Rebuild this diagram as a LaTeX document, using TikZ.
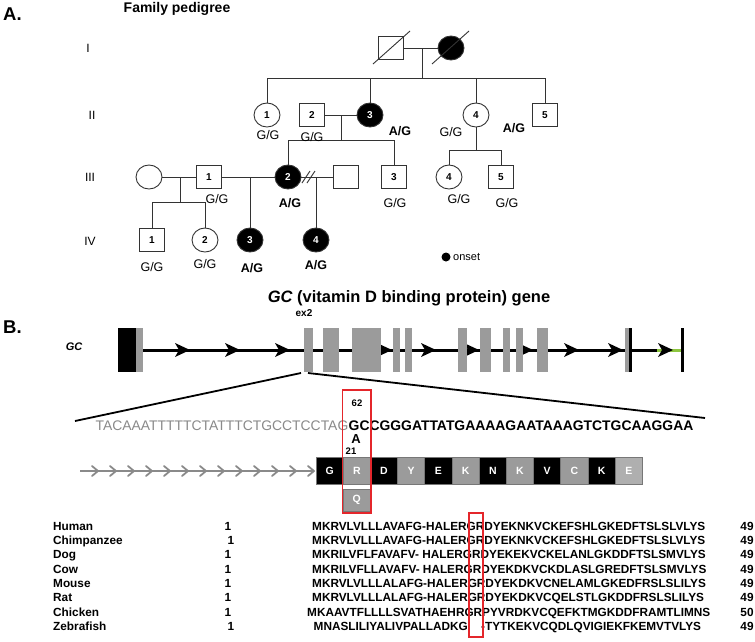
\documentclass[tikz,border=0pt]{standalone}
\usepackage{fontspec}
\setmainfont{Liberation Sans}
\usetikzlibrary{shapes.geometric}
\definecolor{exgray}{HTML}{9B9B9B}
\definecolor{seqgray}{HTML}{8A8A8A}
\definecolor{redb}{HTML}{E4262B}
\definecolor{lgreen}{HTML}{8DC63F}
\definecolor{rowedge}{HTML}{777777}
\newcommand\fs[1]{\fontsize{#1}{#1}\selectfont}
\begin{document}
\begin{tikzpicture}[x=1pt,y=-1pt,
 pl/.style={draw=black!80,line width=0.9pt},
 sqn/.style={draw=black!80,line width=0.9pt,rectangle,minimum width=25pt,minimum height=23pt,inner sep=0pt,font=\fs{10}\bfseries},
 cin/.style={draw=black!80,line width=0.9pt,ellipse,minimum width=26pt,minimum height=24pt,inner sep=0pt,font=\fs{10}\bfseries},
 fcin/.style={cin,fill=black,text=white},
 gg/.style={font=\fs{12.5}},
 ag/.style={font=\fs{12.5}\bfseries},
 genlab/.style={font=\fs{12}},
 exon/.style={fill=exgray,draw=none},
 aab/.style={rectangle,draw=rowedge,line width=0.8pt,minimum width=27.2pt,minimum height=27pt,inner sep=0pt,text=white,font=\fs{10.5}\bfseries},
 aln/.style={font=\fs{11.8}\bfseries,inner sep=0pt},
 redbox/.style={draw=redb,line width=1.8pt}
]
\useasboundingbox (0,0) rectangle (755,641);
\fill[white] (0,0) rectangle (755,641);

% ---------------- Part A ----------------
\node[font=\fs{18.5}\bfseries,anchor=west,inner sep=0pt] (labA) at (3,14) {A.};
\node[font=\fs{14}\bfseries,inner sep=0pt] (ttlA) at (177,9) {Family pedigree};

\node[genlab] (gI) at (88,48) {I};
\node[genlab] (gII) at (92,115) {II};
\node[genlab] (gIII) at (90,177) {III};
\node[genlab] (gIV) at (90,241) {IV};

% generation I
\node[sqn] (I1) at (391,48) {};
\node[fcin] (I2) at (451,48) {};
\draw[pl] (373,64) -- (410,31);
\draw[pl] (432,64) -- (469,31);

% generation II
\node[cin] (II1) at (267,115) {1};
\node[sqn] (II2) at (312,115) {2};
\node[fcin] (II3) at (370,115) {3};
\node[cin] (II4) at (476,115) {4};
\node[sqn] (II5) at (545,115) {5};

% generation III
\node[cin] (IIIs) at (149,177) {};
\node[sqn] (III1) at (209,177) {1};
\node[fcin] (III2) at (288,177) {2};
\node[sqn] (IIIs2) at (346,177) {};
\node[sqn] (III3) at (394,177) {3};
\node[cin] (III4) at (449,177) {4};
\node[sqn] (III5) at (501,177) {5};

% generation IV
\node[sqn] (IV1) at (152,240) {1};
\node[cin] (IV2) at (205,240) {2};
\node[fcin] (IV3) at (250,240) {3};
\node[fcin] (IV4) at (316,240) {4};

% connectors
\coordinate (m1) at (422,48);
\coordinate (s1) at (422,78);
\draw[pl] (I1.east) -- (I2.west);
\draw[pl] (m1) -- (s1);
\draw[pl] (II1.north) -- (II1.north |- s1) -- (II5.north |- s1) -- (II5.north);
\draw[pl] (II3.north |- s1) -- (II3.north);
\draw[pl] (II4.north |- s1) -- (II4.north);

\coordinate (m2) at (341,115);
\coordinate (s2) at (341,140);
\draw[pl] (II2.east) -- (II3.west);
\draw[pl] (m2) -- (s2);
\draw[pl] (III2.north) -- (III2.north |- s2) -- (III3.north |- s2) -- (III3.north);

\coordinate (s3) at (476,150);
\draw[pl] (II4.south) -- (s3);
\draw[pl] (III4.north) -- (III4.north |- s3) -- (III5.north |- s3) -- (III5.north);

\coordinate (m4) at (180,177);
\coordinate (s4) at (180,202);
\draw[pl] (IIIs.east) -- (III1.west);
\draw[pl] (m4) -- (s4);
\draw[pl] (IV1.north) -- (IV1.north |- s4) -- (IV2.north |- s4) -- (IV2.north);

\draw[pl] (III1.east) -- (III2.west);
\draw[pl] (IV3.north |- III1.east) -- (IV3.north);

\draw[pl] (III2.east) -- (IIIs2.west);
\draw[pl] (IV4.north |- III2.east) -- (IV4.north);
\draw[pl] (302,183) -- (310,171);
\draw[pl] (307,183) -- (315,171);

% genotypes
\node[gg] (g21) at (268,135) {G/G};
\node[gg] (g22) at (312,137) {G/G};
\node[ag] (g23) at (400,131) {A/G};
\node[gg] (g24) at (451,132) {G/G};
\node[ag] (g25) at (514,128) {A/G};
\node[gg] (g31) at (217,199) {G/G};
\node[ag] (g32) at (290,203) {A/G};
\node[gg] (g33) at (395,203) {G/G};
\node[gg] (g34) at (459,199) {G/G};
\node[gg] (g35) at (507,203) {G/G};
\node[gg] (g41) at (152,267) {G/G};
\node[gg] (g42) at (205,264) {G/G};
\node[ag] (g43) at (252,268) {A/G};
\node[ag] (g44) at (316,265) {A/G};

\fill (446,257) circle (4.5);
\node[font=\fs{11},anchor=west,inner sep=0pt] (onset) at (453,257) {onset};

% ---------------- Part B ----------------
\node[font=\fs{18.5}\bfseries,anchor=west,inner sep=0pt] (labB) at (3,327) {B.};
\node[font=\fs{16.5}\bfseries,inner sep=0pt] (ttlB) at (409,298) {\itshape GC\upshape{} (vitamin D binding protein) gene};
\node[font=\fs{10}\bfseries,inner sep=0pt] (ex2) at (304,313) {ex2};
\node[font=\fs{11}\bfseries\itshape,inner sep=0pt] (gcl) at (74,347) {GC};

% gene line
\draw[line width=3pt] (143,350) -- (683,350);
\draw[lgreen,line width=3pt] (657,350) -- (681,350);
\foreach \t in {190,240,290,392,436,479,533,579,623,673}{
  \fill (\t,350) -- ++(-15,-7) -- ++(4,7) -- ++(-4,7) -- cycle;
}
% first exon
\fill[black] (118,328) rectangle (136,372);
\fill[exgray] (136,328) rectangle (143,372);
% exons
\foreach \a/\b in {304/313,323/339,352/381,393/400,405/412,458/467,480/491,503/510,516/523,537/548}{
  \fill[exon] (\a,328) rectangle (\b,372);
}
% last exon bars
\fill[exgray] (625,328) rectangle (629,372);
\fill[black] (629,328) rectangle (632,372);
\fill[black] (681,328) rectangle (684,372);

% zoom lines
\coordinate (zl) at (301,373);
\coordinate (zr) at (308,373);
\draw[line width=1.8pt] (zl) -- (75,421);
\draw[line width=1.8pt] (zr) -- (705,418);

% sequence
\node[font=\fs{13.9},text=seqgray,anchor=base east,inner sep=0pt] (seq1) at (348.5,430) {TACAAATTTTTCTATTTCTGCCTCCTAG};
\node[font=\fs{13.9}\bfseries,anchor=base west,inner sep=0pt] (seq2) at (348.5,430) {GCCGGGATTATGAAAAGAATAAAGTCTGCAAGGAA};
\node[font=\fs{9.5}\bfseries,inner sep=0pt] (n62) at (357,403) {62};
\node[font=\fs{13}\bfseries,inner sep=0pt] (mutA) at (356,439) {A};
\node[font=\fs{9.5}\bfseries,inner sep=0pt] (n21) at (351,451) {21};

% gray arrows
\draw[seqgray,line width=2pt] (80,471) -- (314,471);
\foreach \t in {98,116,134,152,170,188,206,224,242,260,278,296,314}{
  \draw[seqgray,line width=1.8pt,line cap=round,line join=round] (\t-6,466) -- (\t,471) -- (\t-6,476);
}

% amino acid boxes
\foreach \i/\L/\c in {1/G/black,2/R/exgray,3/D/black,4/Y/exgray,5/E/black,6/K/exgray,7/N/black,8/K/exgray,9/V/black,10/C/exgray,11/K/black,12/E/exgray!80}{
  \node[aab,fill=\c] (aa\i) at ({316+27.2*(\i-0.5)},471) {\L};
}
\node[aab,fill=exgray,minimum height=22pt] (aaQ) at (aa2.center |- 0,500) {Q};
\draw[redb,line width=1.8pt] (342.5,390) rectangle (370.8,513);

% alignment
\foreach \n/\y in {Human/526,Chimpanzee/540.3,Dog/554.6,Cow/568.9,Mouse/583.2,Rat/597.5,Chicken/611.8,Zebrafish/626.1}{
  \node[aln,anchor=base west] (nm\n) at (53,\y+4.2) {\n};
}
\foreach \n/\x/\y in {1/228/526,2/231/540.3,3/228/554.6,4/228/568.9,5/228/583.2,6/228/597.5,7/228/611.8,8/231/626.1}{
  \node[aln,anchor=base] (one\n) at (\x,\y+4.2) {1};
}
\node[aln,anchor=base west] (sHu) at (312,530.2) {MKRVLVLLLAVAFG-HALERGRDYEKNKVCKEFSHLGKEDFTSLSLVLYS};
\node[aln,anchor=base west] (sCh) at (312,544.5) {MKRVLVLLLAVAFG-HALERGRDYEKNKVCKEFSHLGKEDFTSLSLVLYS};
\node[aln,anchor=base west] (sDo) at (312,558.8) {MKRILVFLFAVAFV- HALERGRDYEKEKVCKELANLGKDDFTSLSMVLYS};
\node[aln,anchor=base west] (sCo) at (312,573.1) {MKRILVFLLAVAFV- HALERGRDYEKDKVCKDLASLGREDFTSLSMVLYS};
\node[aln,anchor=base west] (sMo) at (312,587.4) {MKRVLVLLLALAFG-HALERGRDYEKDKVCNELAMLGKEDFRSLSLILYS};
\node[aln,anchor=base west] (sRa) at (312,601.7) {MKRVLVLLLALAFG-HALERGRDYEKDKVCQELSTLGKDDFRSLSLILYS};
\node[aln,anchor=base west] (sCk) at (307,616) {MKAAVTFLLLLSVATHAEHRGRPYVRDKVCQEFKTMGKDDFRAMTLIMNS};
\node[aln,anchor=base east] (sZa) at (468,630.3) {MNASLILIYALIVPALLADKG};
\node[aln,anchor=base west] (sZb) at (481,630.3) {-TYTKEKVCQDLQVIGIEKFKEMVTVLYS};
\foreach \n/\v/\y in {1/49/526,2/49/540.3,3/49/554.6,4/49/568.9,5/49/583.2,6/49/597.5,7/50/611.8,8/49/626.1}{
  \node[aln,anchor=base] (end\n) at (747,\y+4.2) {\v};
}
\draw[redb,line width=1.6pt] (469,513) rectangle (483,637);
\end{tikzpicture}
\end{document}
